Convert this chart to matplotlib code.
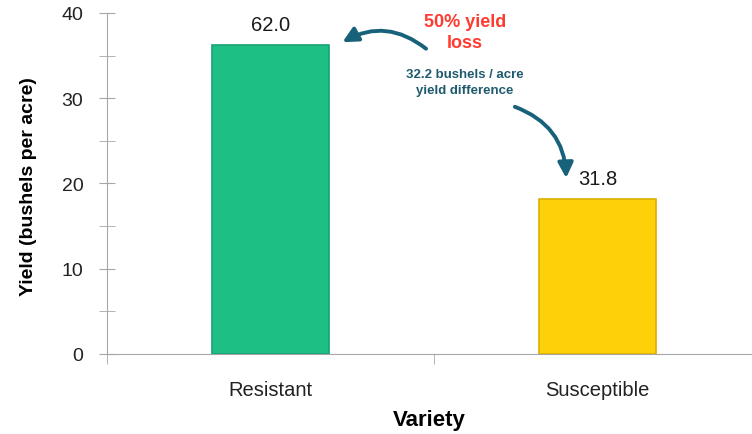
import matplotlib.pyplot as plt

# yield by variety
varieties = ["Resistant", "Susceptible"]
yields = [36.2, 18.2]
bar_labels = ["62.0", "31.8"]
bar_colors = ["#1dbf84", "#fdd00a"]
edge_colors = ["#17a272", "#dcb000"]

plt.rcParams['font.family'] = ['Liberation Sans', 'DejaVu Sans']

fig = plt.figure(figsize=(7.52, 4.35), dpi=100)
ax = fig.add_axes([0.1423, 0.184, 0.8577, 0.784])

x = range(len(varieties))
ax.bar(x, yields, width=0.36, color=bar_colors, edgecolor=edge_colors, linewidth=1.2, zorder=3)

for i, (h, lab) in enumerate(zip(yields, bar_labels)):
    ax.annotate(lab, (i, h), xytext=(0, 8), textcoords="offset points",
                ha="center", va="bottom", fontsize=14.5, color="#1a1a1a")

ax.set_xlim(-0.5, 1.472)
ax.set_ylim(0, 40)
ax.set_yticks([0, 10, 20, 30, 40])
ax.set_yticks([5, 15, 25, 35], minor=True)
ax.set_xticks([0, 1])
ax.set_xticklabels(varieties)
ax.set_xticks([-0.5, 0.5], minor=True)

gray = "#a6a6a6"
for s in ["top", "right"]:
    ax.spines[s].set_visible(False)
ax.spines["left"].set_color(gray)
ax.spines["bottom"].set_color(gray)
ax.tick_params(axis="y", which="both", direction="inout", length=12, color=gray,
               labelsize=14, labelcolor="#222222", pad=11)
ax.tick_params(axis="x", which="major", length=0, labelsize=14.5, labelcolor="#222222", pad=19)
ax.tick_params(axis="x", which="minor", direction="out", length=7, color=gray)

ax.set_ylabel("Yield (bushels per acre)", fontsize=14, fontweight="bold")
ax.yaxis.set_label_coords(-0.1085, 0.494)
ax.set_xlabel("Variety", fontsize=16, fontweight="bold", labelpad=7)

# annotations
ax.text(0.595, 37.8, "50% yield\nloss", ha="center", va="center", fontsize=13,
        fontweight="bold", color="#ff3b30", linespacing=1.3)
ax.text(0.595, 31.9, "32.2 bushels / acre\nyield difference", ha="center", va="center",
        fontsize=9.5, fontweight="bold", color="#1f5a6e", linespacing=1.5)

teal = "#17627a"
ax.annotate("", xy=(0.2125, 36.4), xytext=(0.482, 35.6),
            arrowprops=dict(arrowstyle="-|>,head_length=0.9,head_width=0.45", color=teal, lw=2.8,
                            connectionstyle="arc3,rad=0.35"))
ax.annotate("", xy=(0.904, 20.3), xytext=(0.739, 29.1),
            arrowprops=dict(arrowstyle="-|>,head_length=0.9,head_width=0.45", color=teal, lw=2.8,
                            connectionstyle="arc3,rad=-0.35"))

plt.savefig("out.png", dpi=100)
